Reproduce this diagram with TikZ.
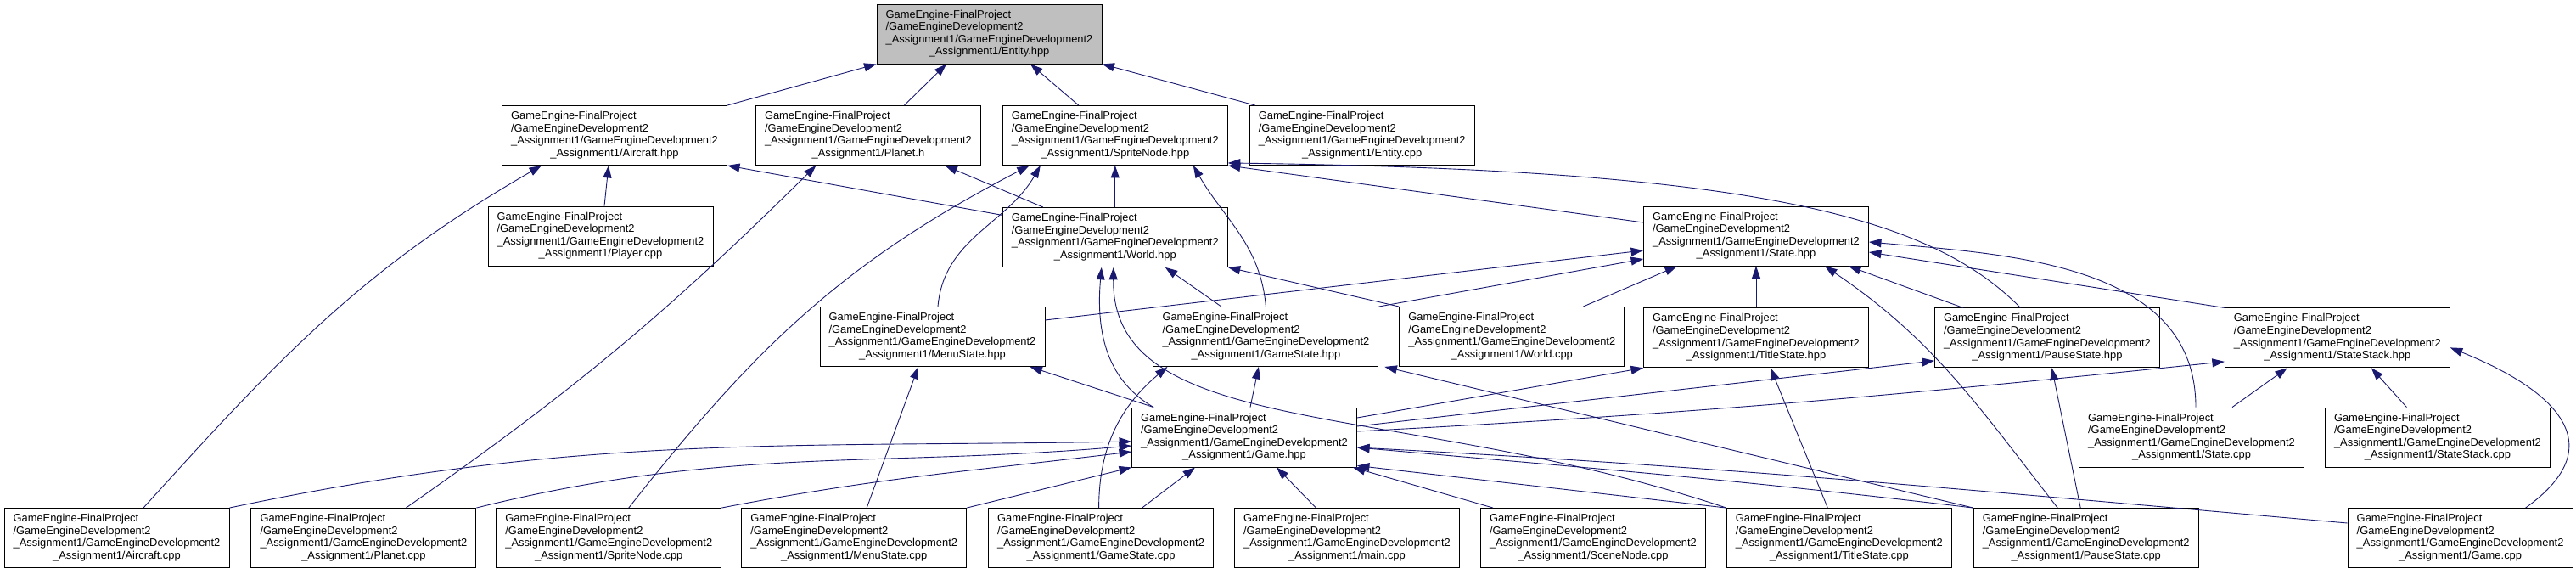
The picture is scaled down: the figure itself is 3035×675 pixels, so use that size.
\documentclass[tikz,border=0pt]{standalone}
\usepackage{fontspec}
\setmainfont{Liberation Sans}
\usepackage{tikz}
\usetikzlibrary{arrows.meta,positioning}
\definecolor{DoxyEdge}{HTML}{191970}
\definecolor{DoxyRoot}{HTML}{BFBFBF}
\newcommand{\srcpath}[1]{\begin{tabular}{@{}l@{}}GameEngine-FinalProject\\/GameEngineDevelopment2\\\_Assignment1/GameEngineDevelopment2\\\multicolumn{1}{@{}c@{}}{\_Assignment1/#1}\end{tabular}}

\begin{document}
\begin{tikzpicture}[
            x=1pt, y=-1pt,
            font=\fontsize{12.9}{14.6}\selectfont,
            srcfile/.style={draw=black, fill=white, line width=0.9pt, minimum width=265pt, minimum height=70pt, inner sep=0pt},
            rootfile/.style={srcfile, fill=DoxyRoot},
            incl/.style={-{Triangle[length=14.5pt,width=10pt]}, line width=0.9pt, draw=DoxyEdge},
        ]
        \useasboundingbox (0,0) rectangle (3035,675);

        \node[rootfile] (entityH) at (1165.5,40) {\srcpath{Entity.hpp}};

        \node[srcfile] (aircraftH) at (724,159.5) {\srcpath{Aircraft.hpp}};
        \node[srcfile, right=33pt of aircraftH] (planetH) {\srcpath{Planet.h}};
        \node[srcfile, right=25pt of planetH] (spriteH) {\srcpath{SpriteNode.hpp}};
        \node[srcfile, right=25pt of spriteH] (entityC) {\srcpath{Entity.cpp}};

        \node[srcfile] (playerC) at (707.5,278) {\srcpath{Player.cpp}};
        \node[srcfile, below=49pt of spriteH] (worldH) {\srcpath{World.hpp}};
        \node[srcfile] (stateH) at (2069,278) {\srcpath{State.hpp}};

        \node[srcfile] (menuH) at (1098.5,396.5) {\srcpath{MenuState.hpp}};
        \node[srcfile, right=127pt of menuH] (gamestateH) {\srcpath{GameState.hpp}};
        \node[srcfile, right=24pt of gamestateH] (worldC) {\srcpath{World.cpp}};
        \node[srcfile, below=49pt of stateH] (titleH) {\srcpath{TitleState.hpp}};
        \node[srcfile, right=77pt of titleH] (pauseH) {\srcpath{PauseState.hpp}};
        \node[srcfile, right=76pt of pauseH] (stackH) {\srcpath{StateStack.hpp}};

        \node[srcfile] (gameH) at (1466,515) {\srcpath{Game.hpp}};
        \node[srcfile] (stateC) at (2582,515) {\srcpath{State.cpp}};
        \node[srcfile, right=24pt of stateC] (stackC) {\srcpath{StateStack.cpp}};

        \node[srcfile] (aircraftC) at (137.5,633.5) {\srcpath{Aircraft.cpp}};
        \node[srcfile, right=25pt of aircraftC] (planetC) {\srcpath{Planet.cpp}};
        \node[srcfile, right=23pt of planetC] (spriteC) {\srcpath{SpriteNode.cpp}};
        \node[srcfile, right=23pt of spriteC] (menuC) {\srcpath{MenuState.cpp}};
        \node[srcfile, right=25pt of menuC] (gamestateC) {\srcpath{GameState.cpp}};
        \node[srcfile, right=24pt of gamestateC] (mainC) {\srcpath{main.cpp}};
        \node[srcfile, right=24pt of mainC] (scenenodeC) {\srcpath{SceneNode.cpp}};
        \node[srcfile, right=24pt of scenenodeC] (titleC) {\srcpath{TitleState.cpp}};
        \node[srcfile, right=25pt of titleC] (pauseC) {\srcpath{PauseState.cpp}};
        \node[srcfile, right=175pt of pauseC] (gameC) {\srcpath{Game.cpp}};

        % Entity.hpp
        \draw[incl] (aircraftH.north east) -- (entityH.south west);
        \draw[incl] ([xshift=42.5pt]planetH.north) -- ([xshift=-50.5pt]entityH.south);
        \draw[incl] ([xshift=-43pt]spriteH.north) -- ([xshift=48.5pt]entityH.south);
        \draw[incl] ([xshift=7pt]entityC.north west) -- (entityH.south east);

        % Aircraft.hpp, Planet.h, SpriteNode.hpp
        \draw[incl] ([xshift=4.5pt]playerC.north) -- ([xshift=-7pt]aircraftH.south);
        \draw[incl] ([xshift=31.5pt]aircraftC.north) .. controls (332,418) and (428,316) .. ([xshift=-86pt]aircraftH.south);
        \draw[incl] ([yshift=26pt]worldH.west) -- (aircraftH.south east);
        \draw[incl] ([xshift=-85pt]worldH.north) -- ([xshift=90.5pt]planetH.south);
        \draw[incl] ([xshift=50pt]planetC.north) .. controls (680,457) and (785,369) .. ([xshift=-61.5pt]planetH.south);
        \draw[incl] (worldH) -- (spriteH);
        \draw[incl] ([xshift=23.5pt]spriteC.north) .. controls (890,408) and (995,308) .. ([xshift=-101pt]spriteH.south);
        \draw[incl] ([xshift=6.5pt]menuH.north) to[out=85,in=-120] ([xshift=-88pt]spriteH.south);
        \draw[incl] (gamestateH.north) to[out=95,in=-60] ([xshift=92pt]spriteH.south);
        \draw[incl] ([yshift=16pt]stateH.west) -- (spriteH.south east);
        \draw[incl] ([xshift=-31.5pt]pauseH.north) .. controls (2270,250) and (2050,200) .. ([yshift=3pt]spriteH.south east);

        % World.hpp
        \draw[incl] ([xshift=26pt]gameH.north west) to[out=150,in=-95] ([xshift=-16pt]worldH.south);
        \draw[incl] ([xshift=-52.5pt]gamestateH.north) -- ([xshift=59pt]worldH.south);
        \draw[incl] (worldC.north west) -- (worldH.south east);
        \draw[incl] (titleC.north west) .. controls (1650,470) and (1310,520) .. ([xshift=-2pt]worldH.south);

        % State.hpp
        \draw[incl] ([yshift=19.5pt]menuH.east) -- ([yshift=-17pt]stateH.west);
        \draw[incl] (gamestateH.north east) -- ([yshift=-27pt]stateH.west);
        \draw[incl] ([xshift=-49pt]worldC.north east) -- ([xshift=-93pt]stateH.south);
        \draw[incl] (titleH) -- (stateH);
        \draw[incl] ([xshift=34pt]pauseH.north west) -- ([xshift=-24pt]stateH.south east);
        \draw[incl] ([xshift=-33.5pt]pauseC.north) to[out=128,in=-34] ([xshift=-52pt]stateH.south east);
        \draw[incl] (stackH.north west) -- ([yshift=-19pt]stateH.east);
        \draw[incl] ([xshift=5pt]stateC.north) to[out=90,in=-5] ([yshift=-7pt]stateH.east);

        % MenuState.hpp, GameState.hpp, TitleState.hpp, PauseState.hpp, StateStack.hpp
        \draw[incl] ([xshift=15pt]menuC.north) -- ([xshift=-16.5pt]menuH.south);
        \draw[incl] ([xshift=26pt]gameH.north west) -- ([xshift=-18pt]menuH.south east);
        \draw[incl] ([xshift=-2.5pt]gamestateC.north) to[out=90,in=-140] ([xshift=17pt]gamestateH.south west);
        \draw[incl] ([xshift=7pt]gameH.north) -- ([xshift=-8.5pt]gamestateH.south);
        \draw[incl] (pauseC.north west) -- ([xshift=7pt]gamestateH.south east);
        \draw[incl] ([yshift=23pt]gameH.east) -- (titleH.south west);
        \draw[incl] ([xshift=-13.5pt]titleC.north) -- ([xshift=17pt]titleH.south);
        \draw[incl] ([yshift=13pt]gameH.east) -- ([yshift=-27pt]pauseH.west);
        \draw[incl] ([xshift=-6.5pt]pauseC.north) -- ([xshift=5.5pt]pauseH.south);
        \draw[incl] ([yshift=7pt]gameH.east) .. controls (1998,487) and (2221,467) .. ([yshift=-28pt]stackH.west);
        \draw[incl] ([xshift=48pt]stateC.north) -- ([xshift=-59pt]stackH.south);
        \draw[incl] ([xshift=-36.5pt]stackC.north) -- ([xshift=40pt]stackH.south);
        \draw[incl] ([xshift=77pt]gameC.north) .. controls (3085,520) and (3000,455) .. ([yshift=-11.5pt]stackH.east);

        % Game.hpp
        \draw[incl] (aircraftC.north east) .. controls (679,512) and (916,527) .. ([yshift=-5pt]gameH.west);
        \draw[incl] (planetC.north east) .. controls (856,525) and (1031,551) .. ([yshift=-10pt]gameH.west);
        \draw[incl] (spriteC.north east) .. controls (1037,562) and (1143,555) .. ([yshift=-17pt]gameH.west);
        \draw[incl] (menuC.north east) -- (gameH.south west);
        \draw[incl] ([xshift=48.5pt]gamestateC.north) -- ([xshift=-58pt]gameH.south);
        \draw[incl] ([xshift=-36.5pt]mainC.north) -- ([xshift=38pt]gameH.south);
        \draw[incl] ([xshift=15pt]scenenodeC.north west) -- ([xshift=-5pt]gameH.south east);
        \draw[incl] (titleC.north west) -- ([yshift=2pt]gameH.south east);
        \draw[incl] (pauseC.north west) .. controls (2038,564) and (1881,552) .. ([yshift=-12pt]gameH.east);
        \draw[incl] ([yshift=17.5pt]gameC.west) .. controls (2306,576) and (2053,551) .. ([yshift=-12pt]gameH.east);
    \end{tikzpicture}
\end{document}
